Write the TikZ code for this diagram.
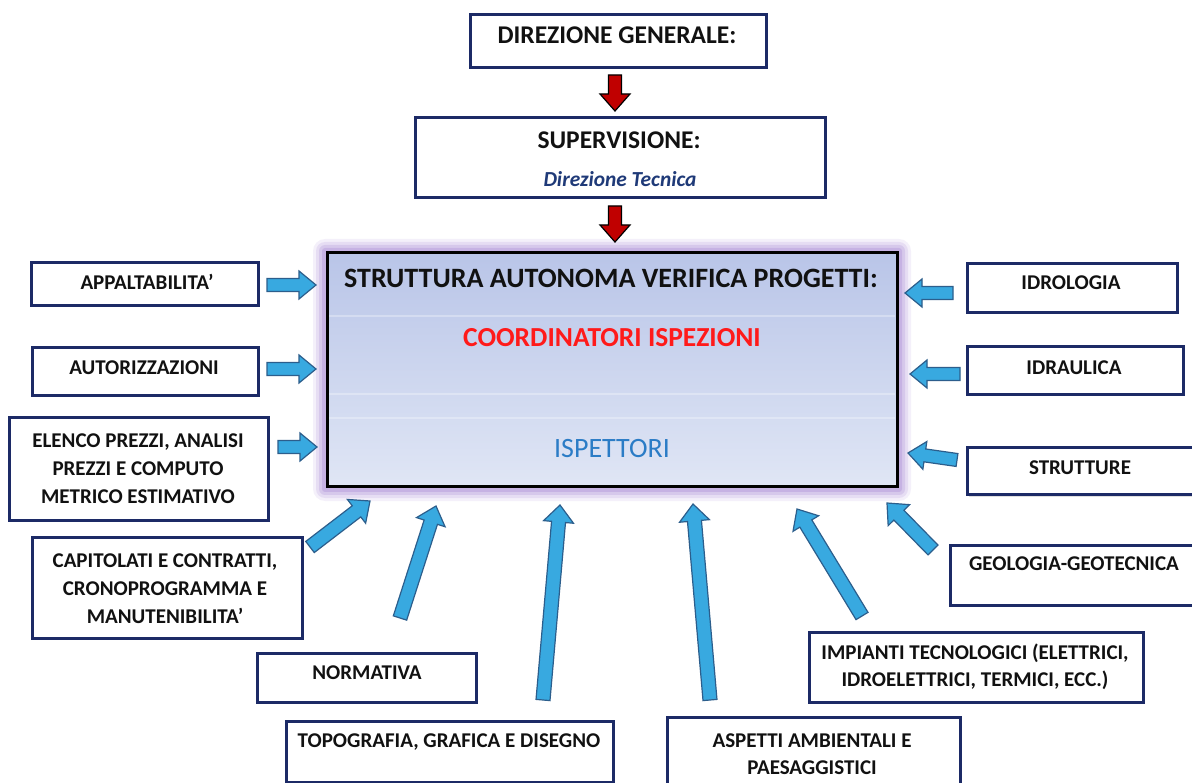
\documentclass[tikz,border=0pt]{standalone}
\usepackage{fontspec}
\setmainfont{Carlito}
\usetikzlibrary{calc,shadows}
\definecolor{navy}{HTML}{1C2A66}
\definecolor{arrfill}{HTML}{38A9E0}
\definecolor{arrline}{HTML}{2C5E8C}
\definecolor{redarr}{HTML}{C00000}
\definecolor{glow}{HTML}{A98BD6}
\definecolor{ctop}{HTML}{B9C5E8}
\definecolor{cbot}{HTML}{E0E6F5}
\definecolor{txt}{HTML}{111111}
\definecolor{coord}{HTML}{FF1A1A}
\definecolor{isp}{HTML}{2B7CC6}
\definecolor{dirtec}{HTML}{1F3A78}

% #1 style, #2 half shaft, #3 half head, #4 head length, #5 tail, #6 tip
\newcommand{\blockarr}[6]{%
  \coordinate (bhA) at ($(#6)!#4!(#5)$);
  \draw[#1] ($(#5)!#2!90:(#6)$) -- ($(bhA)!#2!90:(#6)$) -- ($(bhA)!#3!90:(#6)$) -- (#6)
    -- ($(bhA)!#3!-90:(#6)$) -- ($(bhA)!#2!-90:(#6)$) -- ($(#5)!#2!-90:(#6)$) -- cycle;}

\begin{document}
\begin{tikzpicture}[x=1pt,y=-1pt,
  box/.style={draw=navy, line width=3pt, fill=white, inner sep=0pt,
    drop shadow={shadow xshift=1.5pt, shadow yshift=-1.5pt, opacity=.25}},
  lbl/.style={text=txt, font=\bfseries\fontsize{21}{28}\selectfont, inner sep=0pt, align=center},
  one/.style={text height=13.5pt, text depth=0pt},
  barrow/.style={fill=arrfill, draw=arrline, line width=1.2pt, line join=miter},
  rarrow/.style={fill=redarr, draw=black, line width=1.2pt, line join=miter},
  band/.style={white, opacity=.3, line width=1.2pt}]
\useasboundingbox (0,0) rectangle (1192,783);
\clip (0,0) rectangle (1192,783);
\fill[white] (0,0) rectangle (1192,783);

% ---------- top boxes
\node[box, minimum width=296, minimum height=53] (dirgen) at (618,41.5) {};
\node[lbl, font=\bfseries\fontsize{25.5}{30}\selectfont, text height=16.4pt, text depth=0pt] (dirgenT) at (617,35) {DIREZIONE GENERALE:};

\node[box, minimum width=410, minimum height=80] (sup) at (620,158) {};
\node[lbl, font=\bfseries\fontsize{25.5}{30}\selectfont, text height=16.4pt, text depth=0pt] (supT) at (619,140) {SUPERVISIONE:};
\node[lbl, text=dirtec, font=\bfseries\itshape\fontsize{21.4}{26}\selectfont, text height=13.8pt, text depth=0pt] (supD) at (620,180) {Direzione Tecnica};

% ---------- central box with purple glow
\fill[glow, opacity=.12, rounded corners=12pt] (313,239) rectangle (911,501);
\fill[glow, opacity=.18, rounded corners=9pt] (316,242) rectangle (908,498);
\fill[glow, opacity=.25, rounded corners=6pt] (319,245) rectangle (905,495);
\fill[glow, opacity=.35, rounded corners=3pt] (322,248) rectangle (902,492);
\node[draw=black, line width=3pt, top color=ctop, bottom color=cbot, inner sep=0pt,
      minimum width=570, minimum height=234] (savp) at (612,370) {};
\draw[band] (329,316) -- (895,316);
\draw[band] (329,394) -- (895,394);
\draw[band] (329,418) -- (895,418);
\node[lbl, font=\bfseries\fontsize{28}{32}\selectfont, text height=18pt, text depth=0pt] (savpT) at (611,279) {STRUTTURA AUTONOMA VERIFICA PROGETTI:};
\node[lbl, text=coord, font=\bfseries\fontsize{27.5}{32}\selectfont, text height=17.7pt, text depth=0pt] (coordT) at (612,338) {COORDINATORI ISPEZIONI};
\node[lbl, text=isp, font=\fontsize{28}{32}\selectfont, text height=18pt, text depth=0pt] (ispT) at (612,449) {ISPETTORI};

% ---------- left boxes
\node[box, minimum width=227, minimum height=43] (appalt) at (144.5,284.5) {};
\node[lbl, one] (appaltT) at (147,283) {APPALTABILITA’};
\node[box, minimum width=226, minimum height=48] (autor) at (145,372) {};
\node[lbl, one] (autorT) at (144,368) {AUTORIZZAZIONI};
\node[box, minimum width=259, minimum height=102] (elenco) at (138.5,469) {};
\node[lbl] (elencoT) at (138,469) {ELENCO PREZZI, ANALISI\\PREZZI E COMPUTO\\METRICO ESTIMATIVO};
\node[box, minimum width=270, minimum height=101] (capit) at (167,587.5) {};
\node[lbl] (capitT) at (165,589) {CAPITOLATI E CONTRATTI,\\CRONOPROGRAMMA E\\MANUTENIBILITA’};

% ---------- bottom boxes
\node[box, minimum width=219, minimum height=49] (normat) at (366.5,677.5) {};
\node[lbl, one] (normatT) at (367,673) {NORMATIVA};
\node[box, minimum width=327, minimum height=61] (topo) at (449.5,751.5) {};
\node[lbl, one] (topoT) at (449,741) {TOPOGRAFIA, GRAFICA E DISEGNO};
\node[box, minimum width=293, minimum height=83] (aspetti) at (813.5,758.5) {};
\node[lbl, font=\bfseries\fontsize{21}{27}\selectfont] (aspettiT) at (812,754) {ASPETTI AMBIENTALI E\\PAESAGGISTICI};
\node[box, minimum width=334, minimum height=70] (impianti) at (976,667) {};
\node[lbl, font=\bfseries\fontsize{21}{27}\selectfont] (impiantiT) at (975,667) {IMPIANTI TECNOLOGICI (ELETTRICI,\\IDROELETTRICI, TERMICI, ECC.)};

% ---------- right boxes
\node[box, minimum width=248, minimum height=60] (geo) at (1074,575) {};
\node[lbl, one] (geoT) at (1074,564) {GEOLOGIA-GEOTECNICA};
\node[box, minimum width=228, minimum height=47] (strutt) at (1081,471.5) {};
\node[lbl, one] (struttT) at (1080,468) {STRUTTURE};
\node[box, minimum width=216, minimum height=48] (idraul) at (1075,371) {};
\node[lbl, one] (idraulT) at (1074,368) {IDRAULICA};
\node[box, minimum width=210, minimum height=49] (idrol) at (1072,288.5) {};
\node[lbl, one] (idrolT) at (1071,283) {IDROLOGIA};

% ---------- arrow end points
\coordinate (r1a) at (615,75);   \coordinate (r1b) at (615,111);
\coordinate (r2a) at (615,206);  \coordinate (r2b) at (615,242);
\coordinate (l1a) at (267,285);  \coordinate (l1b) at (316,285);
\coordinate (l2a) at (267,369);  \coordinate (l2b) at (316,369);
\coordinate (l3a) at (278,447);  \coordinate (l3b) at (317,447);
\coordinate (q1a) at (953,293);  \coordinate (q1b) at (905,293);
\coordinate (q2a) at (960,374);  \coordinate (q2b) at (910,374);
\coordinate (q3a) at (957,460);  \coordinate (q3b) at (908,453);
\coordinate (b1a) at (310,547);  \coordinate (b1b) at (370,501);
\coordinate (b2a) at (400,618);  \coordinate (b2b) at (436,506);
\coordinate (b3a) at (543,700);  \coordinate (b3b) at (560,505);
\coordinate (b4a) at (710,700);  \coordinate (b4b) at (693,504);
\coordinate (b5a) at (862,616);  \coordinate (b5b) at (797,509);
\coordinate (b6a) at (933,550);  \coordinate (b6b) at (887,503);

% ---------- arrows
\blockarr{rarrow}{6.5pt}{15pt}{17pt}{r1a}{r1b}
\blockarr{rarrow}{6.5pt}{15pt}{17pt}{r2a}{r2b}
\blockarr{barrow}{6.5pt}{14pt}{17pt}{l1a}{l1b}
\blockarr{barrow}{6.5pt}{14pt}{17pt}{l2a}{l2b}
\blockarr{barrow}{6.5pt}{14pt}{17pt}{l3a}{l3b}
\blockarr{barrow}{6.5pt}{14pt}{17pt}{q1a}{q1b}
\blockarr{barrow}{6.5pt}{14pt}{17pt}{q2a}{q2b}
\blockarr{barrow}{6.5pt}{14pt}{17pt}{q3a}{q3b}
\blockarr{barrow}{7pt}{15pt}{17pt}{b1a}{b1b}
\blockarr{barrow}{7pt}{15pt}{17pt}{b2a}{b2b}
\blockarr{barrow}{7pt}{15pt}{17pt}{b3a}{b3b}
\blockarr{barrow}{7pt}{15pt}{17pt}{b4a}{b4b}
\blockarr{barrow}{7pt}{15pt}{17pt}{b5a}{b5b}
\blockarr{barrow}{7pt}{15pt}{17pt}{b6a}{b6b}
\end{tikzpicture}
\end{document}
